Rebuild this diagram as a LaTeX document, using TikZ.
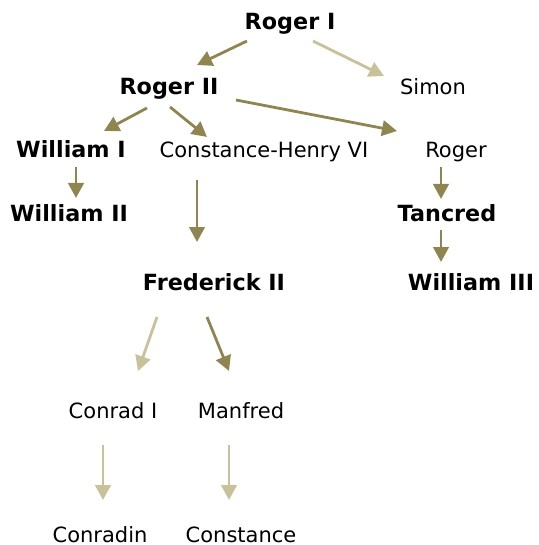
\documentclass[tikz,border=0pt]{standalone}
\usepackage{fontspec}
\setmainfont{DejaVu Sans}
\usetikzlibrary{arrows.meta,calc}
\definecolor{darkol}{RGB}{143,133,80}
\definecolor{lightol}{RGB}{200,193,153}
\begin{document}
\begin{tikzpicture}[x=1pt,y=-1pt,
  lbl/.style={anchor=base,inner sep=0pt,font=\fontsize{21}{25}\selectfont},
  blbl/.style={lbl,font=\fontsize{22.3}{26}\selectfont\bfseries},
  dk/.style={draw=darkol,line width=2.8pt,-{Triangle[length=15pt,width=15.5pt]},color=darkol},
  lt/.style={draw=lightol,line width=2.8pt,-{Triangle[length=15pt,width=15.5pt]},color=lightol}]
\useasboundingbox (0,0) rectangle (538,545);
\node[blbl] (rogerI) at (290,30) {Roger I};
\node[blbl] (rogerII) at (169,95) {Roger II};
\node[lbl] (simon) at (433,95) {Simon};
\node[blbl] (williamI) at (71,158) {William I};
\node[lbl] (conhenry) at (264,158) {Constance-Henry VI};
\node[lbl] (roger) at (456,158) {Roger};
\node[blbl] (williamII) at (69,222) {William II};
\node[blbl] (tancred) at (447,222) {Tancred};
\node[blbl] (frederick) at (214,290) {Frederick II};
\node[blbl] (williamIII) at (471,290) {William III};
\node[lbl] (conrad) at (113,418) {Conrad I};
\node[lbl] (manfred) at (241,418) {Manfred};
\node[lbl] (conradin) at (100,542) {Conradin};
\node[lbl] (constance) at (241,542) {Constance};
\draw[dk] ($(rogerI.base)+(-43,11)$) -- ($(rogerII.base)+(28,-30)$);
\draw[lt] ($(rogerI.base)+(23,11)$) -- ($(simon.base)+(-49,-19)$);
\draw[dk] ($(rogerII.base)+(-22,13)$) -- ($(williamI.base)+(33,-27)$);
\draw[dk] ($(rogerII.base)+(1,12)$) -- ($(conhenry.base)+(-57,-21)$);
\draw[dk] ($(rogerII.base)+(67,5)$) -- ($(roger.base)+(-59,-27)$);
\draw[dk] ($(williamI.base)+(5,9)$) -- ($(williamII.base)+(7,-24)$);
\draw[dk] ($(conhenry.base)+(-67,22)$) -- ($(frederick.base)+(-17,-48)$);
\draw[dk] ($(roger.base)+(-15,9)$) -- ($(tancred.base)+(-6,-23)$);
\draw[dk] ($(tancred.base)+(-6,8)$) -- ($(williamIII.base)+(-30,-28)$);
\draw[lt] ($(frederick.base)+(-57,27)$) -- ($(conrad.base)+(25,-47)$);
\draw[dk] ($(frederick.base)+(-7,27)$) -- ($(manfred.base)+(-12,-47)$);
\draw[lt] ($(conrad.base)+(-10,27)$) -- ($(conradin.base)+(3,-42)$);
\draw[lt] ($(manfred.base)+(-12,27)$) -- ($(constance.base)+(-12,-42)$);
\end{tikzpicture}
\end{document}
